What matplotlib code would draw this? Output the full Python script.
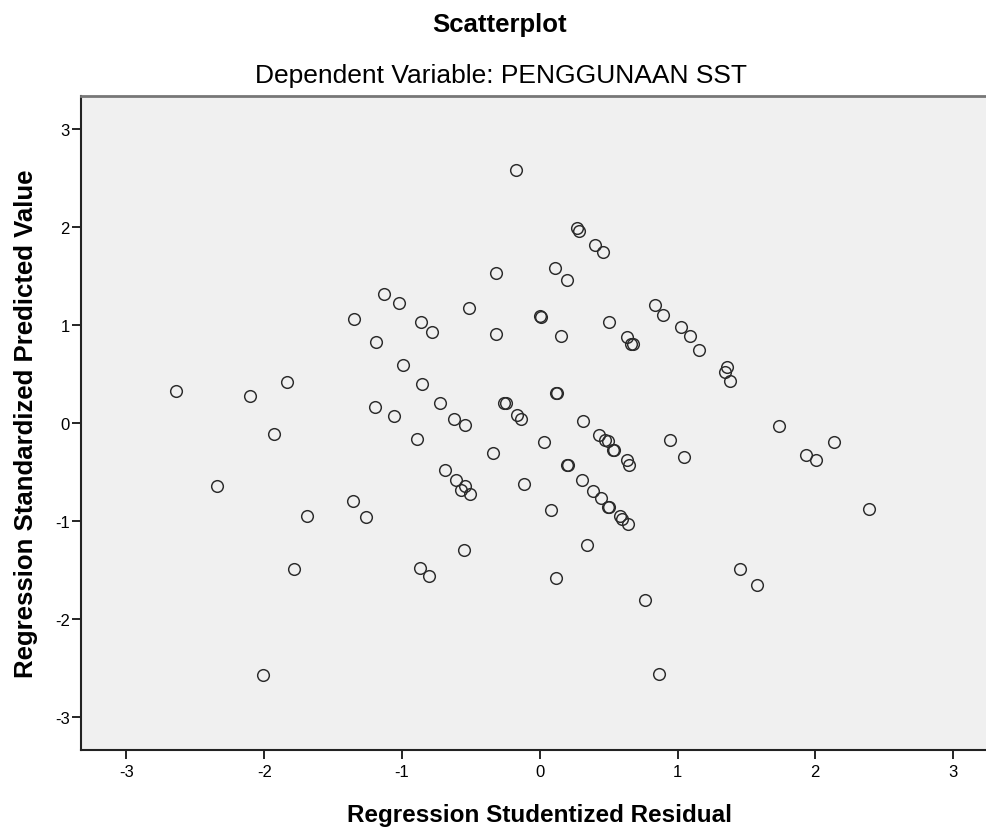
import matplotlib
matplotlib.use("Agg")
import matplotlib.pyplot as plt

plt.rcParams['font.family'] = ['Liberation Sans', 'DejaVu Sans']

title = "Scatterplot"
subtitle = "Dependent Variable: PENGGUNAAN SST"
xlabel = "Regression Studentized Residual"
ylabel = "Regression Standardized Predicted Value"
ticks = [-3, -2, -1, 0, 1, 2, 3]

resid = [-2.641, -2.104, -1.835, -1.351, -1.131, -1.019, -0.516, -0.174, 0.271, 0.286,
         0.400, 0.460, -0.320, 0.111, 0.198, 0.000, 0.010, -0.859, -0.779, -0.315,
         0.153, 0.501, 0.835, 0.893, 0.630, 0.666, 0.675, -1.191, -0.993, -0.852,
         -0.724, -1.198, -1.060, -0.620, -0.542, -0.259, -0.245, -0.162, -0.133, 0.118,
         0.125, 0.317, -0.888, -0.339, 0.029, 0.431, 0.474, 0.496, 0.532, 0.540,
         0.630, 0.649, -0.687, -0.610, -0.545, -0.569, -0.506, -0.116, 0.080, 0.198,
         0.205, 0.307, 0.390, 0.441, 0.499, 0.505, 0.586, 0.600, 0.641, -0.547,
         -0.871, -0.804, 0.341, 0.121, 0.765, 0.862, -1.927, -2.344, -1.687, -1.356,
         -1.259, -1.786, -2.012, 1.024, 1.089, 1.153, 1.356, 1.346, 1.378, 0.944,
         1.048, 1.738, 1.932, 2.002, 2.135, 2.387, 1.452, 1.578]

pred = [0.327, 0.276, 0.418, 1.058, 1.310, 1.218, 1.170, 2.575, 1.987, 1.960,
        1.810, 1.742, 1.528, 1.579, 1.453, 1.095, 1.085, 1.027, 0.922, 0.908,
        0.888, 1.024, 1.204, 1.102, 0.878, 0.803, 0.800, 0.820, 0.589, 0.398,
        0.198, 0.157, 0.071, 0.040, -0.018, 0.198, 0.198, 0.079, 0.038, 0.303,
        0.303, 0.020, -0.163, -0.309, -0.197, -0.122, -0.173, -0.184, -0.276, -0.280,
        -0.384, -0.432, -0.476, -0.581, -0.643, -0.684, -0.731, -0.619, -0.891, -0.428,
        -0.430, -0.588, -0.694, -0.765, -0.854, -0.858, -0.955, -0.976, -1.037, -1.296,
        -1.486, -1.561, -1.245, -1.578, -1.809, -2.567, -0.115, -0.643, -0.955, -0.796,
        -0.959, -1.493, -2.571, 0.983, 0.888, 0.742, 0.565, 0.514, 0.422, -0.173,
        -0.353, -0.037, -0.330, -0.384, -0.200, -0.874, -1.493, -1.653]

W, H = 987, 829
fig = plt.figure(figsize=(W / 100, H / 100), dpi=100)
fig.patch.set_facecolor('white')

left_px, right_px, top_px, bot_px = 81, 998.5, 96.7, 751
ax = fig.add_axes([left_px / W, 1 - bot_px / H, (right_px - left_px) / W, (bot_px - top_px) / H])
ax.set_facecolor('#f0f0f0')

ax.plot(resid, pred, linestyle='none', marker='o', markersize=8.4,
        markerfacecolor='none', markeredgecolor='#2a2a2a', markeredgewidth=1.05)

ax.set_xlim(-3.33, 3.33)
ax.set_ylim(-3.338, 3.338)
ax.set_xticks(ticks)
ax.set_yticks(ticks)
ax.set_xticklabels([str(t) for t in ticks])
ax.set_yticklabels([str(t) for t in ticks])
ax.tick_params(direction='out', length=6.5, width=1.2, colors='black', labelsize=12)
ax.tick_params(axis='x', pad=3.5)
ax.tick_params(axis='y', pad=1.5)

for side in ['left', 'bottom']:
    ax.spines[side].set_linewidth(1.5)
    ax.spines[side].set_color('#222222')
ax.spines['top'].set_linewidth(2.0)
ax.spines['top'].set_color('#777777')
ax.spines['right'].set_visible(False)

fig.text(500 / W, 1 - 32 / H, title, ha='center', va='baseline', fontsize=18.5, fontweight='bold')
fig.text(501 / W, 1 - 83 / H, subtitle, ha='center', va='baseline', fontsize=19)
fig.text(540 / W, 1 - 822 / H, xlabel, ha='center', va='baseline', fontsize=17.5, fontweight='bold')
fig.text(26 / W, 1 - 424 / H, ylabel, ha='center', va='center', rotation=90, fontsize=18.5, fontweight='bold')

fig.savefig('out.png', dpi=100)
